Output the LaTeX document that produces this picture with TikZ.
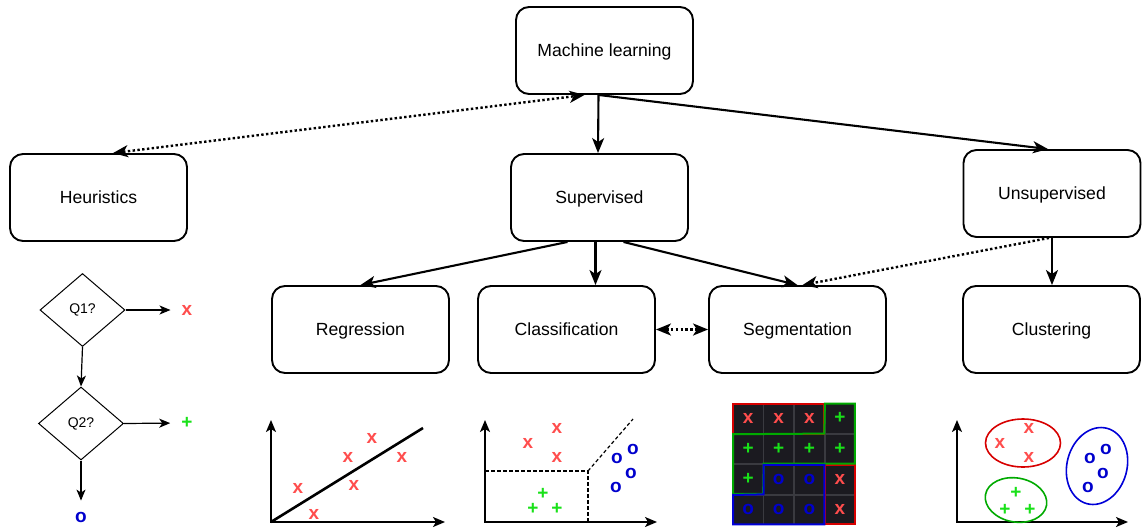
\documentclass[tikz,border=0pt]{standalone}
\usepackage{fontspec}
\setmainfont{Liberation Sans}
\usetikzlibrary{matrix,arrows.meta,shapes.geometric}
\definecolor{xred}{RGB}{255,77,77}
\definecolor{pgreen}{RGB}{25,225,25}
\definecolor{oblue}{RGB}{0,0,205}
\definecolor{lred}{RGB}{215,0,0}
\definecolor{lgreen}{RGB}{0,170,0}
\definecolor{lblue}{RGB}{0,0,215}
\definecolor{cellbg}{RGB}{27,26,32}
\definecolor{cellline}{RGB}{58,58,64}

\begin{document}
\begin{tikzpicture}[x=1pt,y=-1pt,
  >={Stealth[length=15pt,width=12pt,inset=4pt]},
  box/.style={draw,line width=1.9pt,rounded corners=13pt,minimum width=177pt,
    minimum height=87pt,text depth=0pt,font=\fontsize{17.6}{20}\selectfont},
  ques/.style={diamond,draw,line width=1pt,inner sep=0pt,minimum width=85pt,
    minimum height=73pt,font=\fontsize{14}{16}\selectfont},
  link/.style={line width=2.1pt,->},
  dots/.style={line width=2.4pt,dash pattern=on 2.4pt off 2.4pt},
  tree/.style={line width=1.2pt,-{Stealth[length=11pt,width=9pt,inset=3pt]},shorten >=11pt},
  ax/.style={line width=1.6pt,{Stealth[length=12pt,width=10pt,inset=3pt]}-{Stealth[length=12pt,width=10pt,inset=3pt]}},
  mk/.style={inner sep=0pt,font=\fontsize{19}{19}\selectfont\bfseries},
  rx/.style={mk,text=xred},
  gp/.style={mk,text=pgreen},
  bo/.style={mk,text=oblue},
  cell/.style={draw=cellline,fill=cellbg,line width=0.6pt,minimum width=30pt,
    minimum height=29.5pt,inner sep=0pt,outer sep=0pt},
  outline/.style={line width=2pt}]
  \useasboundingbox (0,0) rectangle (1144,531);

  % boxes
  \node[box] (ml)  at (604.5,50.5)  {Machine learning};
  \node[box] (heu) at (98.5,197.5)  {Heuristics};
  \node[box] (sup) at (599.5,197.5) {Supervised};
  \node[box] (uns) at (1052,193.5)  {Unsupervised};
  \node[box] (reg) at (360.5,329.5) {Regression};
  \node[box] (cla) at (566.5,329.5) {Classification};
  \node[box] (seg) at (797.5,329.5) {Segmentation};
  \node[box] (clu) at (1051.5,329.5) {Clustering};

  \draw[link] ([xshift=-6pt]ml.south) -- ([xshift=-1.5pt]sup.north);
  \draw[link] ([xshift=-6pt]ml.south) -- ([xshift=-4pt]uns.north);
  \draw[dots,<->] ([xshift=14.5pt]heu.north) -- ([xshift=-20pt]ml.south);
  \draw[link] ([xshift=-32pt]sup.south) -- (reg.north);
  \draw[link] ([xshift=-4pt]sup.south) -- ([xshift=-4pt]sup.south |- cla.north);
  \draw[link] ([xshift=24pt]sup.south) -- (seg.north);
  \draw[dots,->] ([xshift=-3pt]uns.south) -- ([xshift=5pt]seg.north);
  \draw[link] (uns.south) -- (uns.south |- clu.north);
  \draw[dots,<->] (cla.east) -- (seg.west);

  % decision tree
  \node[ques] (q1) at (82.5,310) {Q1?};
  \node[ques] (q2) at (81,423.5) {Q2?};
  \node[rx] (t1) at (187,310) {x};
  \node[gp] (t2) at (187,423) {+};
  \node[bo] (t3) at (81,517) {o};
  \draw[tree,shorten >=0pt] (q1.south) -- (q2.north);
  \draw[tree] (q1.east) -- (t1.west);
  \draw[tree] (q2.east) -- (t2.west);
  \draw[tree] (q2.south) -- (t3.north);

  % regression
  \draw[ax] (271,420) |- (445,522);
  \draw[line width=2.6pt] (271,522) -- (423,428);
  \node[rx] (r1) at (298,488) {x};
  \node[rx] (r2) at (314,514) {x};
  \node[rx] (r3) at (348,457) {x};
  \node[rx] (r4) at (354,485) {x};
  \node[rx] (r5) at (372,438) {x};
  \node[rx] (r6) at (402,457) {x};

  % classification
  \draw[ax] (485,420) |- (657,522);
  \draw[line width=1.2pt,dash pattern=on 3.5pt off 2.5pt] (485,471) -| (588,522);
  \draw[line width=1.2pt,dash pattern=on 3.5pt off 2.5pt] (588,471) -- (633,419);
  \node[rx] (c1) at (528,443) {x};
  \node[rx] (c2) at (557,428) {x};
  \node[rx] (c3) at (557,457) {x};
  \node[gp] (c4) at (543,494) {+};
  \node[gp] (c5) at (533,509) {+};
  \node[gp] (c6) at (557,509) {+};
  \node[bo] (c7) at (617,458) {o};
  \node[bo] (c8) at (633,449) {o};
  \node[bo] (c9) at (631,473) {o};
  \node[bo] (c10) at (616,487) {o};

  % segmentation
  \matrix (g) [matrix of nodes, nodes={cell}, row sep=0pt, column sep=0pt] at (794,464)
  { |[rx,cell]| x & |[rx,cell]| x & |[rx,cell]| x & |[gp,cell]| + \\
    |[gp,cell]| + & |[gp,cell]| + & |[gp,cell]| + & |[gp,cell]| + \\
    |[gp,cell]| + & |[bo,cell]| o & |[bo,cell]| o & |[rx,cell]| x \\
    |[bo,cell]| o & |[bo,cell]| o & |[bo,cell]| o & |[rx,cell]| x \\
  };
  \draw[outline,lred] (g-1-1.north west) rectangle (g-1-3.south east);
  \draw[outline,lred] (g-3-4.north west) rectangle (g-4-4.south east);
  \draw[outline,lgreen] (g-1-4.north west) -- (g-1-4.north east) -- (g-2-4.south east)
    -- (g-2-2.south west) -- (g-3-1.south east) -- (g-3-1.south west)
    -- (g-2-1.north west) -- (g-1-3.south east) -- cycle;
  \draw[outline,lblue] (g-3-2.north west) -- (g-3-3.north east) -- (g-4-3.south east)
    -- (g-4-1.south west) -- (g-4-1.north west) -- (g-3-2.south west) -- cycle;

  % clustering
  \draw[ax] (957,420) |- (1128,522);
  \draw[line width=1.6pt,lred] (1023,443) ellipse [x radius=37.5pt, y radius=24pt];
  \draw[line width=1.6pt,lgreen,rotate around={-10:(1016,500)}] (1016,500) ellipse [x radius=31pt, y radius=22pt];
  \draw[line width=1.6pt,lblue,rotate around={-15:(1097,466)}] (1097,466) ellipse [x radius=30pt, y radius=39pt];
  \node[rx] (k1) at (1000,443) {x};
  \node[rx] (k2) at (1029,428) {x};
  \node[rx] (k3) at (1029,457) {x};
  \node[gp] (k4) at (1016,493) {+};
  \node[gp] (k5) at (1005,510) {+};
  \node[gp] (k6) at (1030,510) {+};
  \node[bo] (k7) at (1090,458) {o};
  \node[bo] (k8) at (1106,449) {o};
  \node[bo] (k9) at (1103,473) {o};
  \node[bo] (k10) at (1088,487) {o};
\end{tikzpicture}
\end{document}
